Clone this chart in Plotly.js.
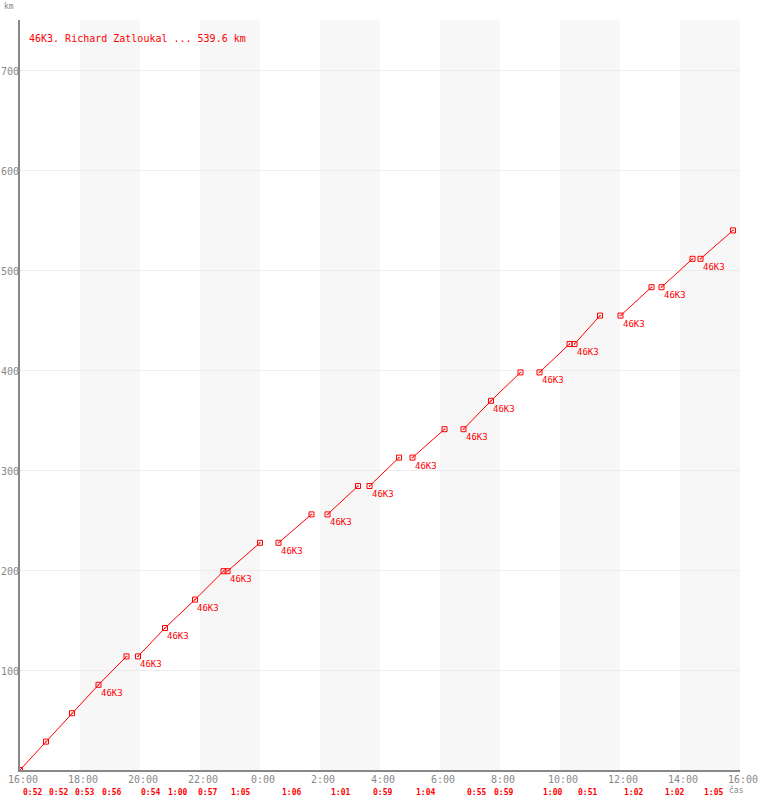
<!DOCTYPE html>
<html>
<head>
<meta charset="utf-8">
<script src="https://cdn.plot.ly/plotly-3.0.1.min.js"></script>
<style>html,body{margin:0;padding:0;background:#fff;}#chart{width:760px;height:800px;}</style>
</head>
<body>
<div id="chart"></div>
<script>
// ---- data (minutes after 16:00, null = break in the line) ----
const timeMin = [0, 52, 104, 157, 213, null,
  236, 290, 350, 407, null,
  415, 480, null,
  517, 583, null,
  615, 676, null,
  699, 758, null,
  785, 849, null,
  887, 942, 1001, null,
  1039, 1099, null,
  1109, 1160, null,
  1201, 1263, null,
  1283, 1345, null,
  1361, 1426];
const kmValues = [0, 28.4, 56.8, 85.2, 113.6, null,
  113.6, 142.0, 170.4, 198.8, null,
  198.8, 227.2, null,
  227.2, 255.6, null,
  255.6, 284.0, null,
  284.0, 312.4, null,
  312.4, 340.8, null,
  340.8, 369.2, 397.6, null,
  397.6, 426.0, null,
  426.0, 454.4, null,
  454.4, 482.8, null,
  482.8, 511.2, null,
  511.2, 539.6];
const tagged = [0, 0, 0, 1, 0, 0,
  1, 1, 1, 0, 0,
  1, 0, 0,
  1, 0, 0,
  1, 0, 0,
  1, 0, 0,
  1, 0, 0,
  1, 1, 0, 0,
  1, 0, 0,
  1, 0, 0,
  1, 0, 0,
  1, 0, 0,
  1, 0];
const tagText = "46K3";
const lapTimes = ["0:52", "0:52", "0:53", "0:56", "0:54", "1:00", "0:57", "1:05", "1:06", "1:01",
  "0:59", "1:04", "0:55", "0:59", "1:00", "0:51", "1:02", "1:02", "1:05"];
const xTickVals = [0, 120, 240, 360, 480, 600, 720, 840, 960, 1080, 1200, 1320, 1440];
const xTickText = ["16:00", "18:00", "20:00", "22:00", "0:00", "2:00", "4:00", "6:00", "8:00", "10:00", "12:00", "14:00", "16:00"];
const yTickVals = [100, 200, 300, 400, 500, 600, 700];
const bandStarts = [120, 360, 600, 840, 1080, 1320];
const bandLength = 120;
const titleText = "46K3. Richard Zatloukal ... 539.6 km";

const RED = "#ff0000";
const GRAY = "#888888";
const MONO = "'DejaVu Sans Mono', 'Liberation Mono', monospace";

const shapes = bandStarts.map(s => ({
  type: "rect", xref: "x", yref: "paper", x0: s, x1: s + bandLength, y0: 0, y1: 1,
  fillcolor: "#f7f7f7", line: {width: 0}, layer: "below"
}));

const annotations = [];
// 46K3 tags
timeMin.forEach((t, i) => {
  if (t !== null && tagged[i]) {
    annotations.push({x: t, y: kmValues[i], xref: "x", yref: "y", text: tagText, showarrow: false,
      xanchor: "left", yanchor: "top", xshift: 0, yshift: -1,
      font: {family: MONO, size: 9, color: RED}});
  }
});
// lap time labels: one per lap (consecutive points within a segment)
let lap = 0;
for (let i = 0; i + 1 < timeMin.length; i++) {
  if (timeMin[i] !== null && timeMin[i + 1] !== null) {
    annotations.push({x: timeMin[i], y: 0, xref: "x", yref: "paper", text: "<b>" + lapTimes[lap] + "</b>",
      showarrow: false, xanchor: "left", yanchor: "middle", xshift: 1, yshift: -22,
      font: {family: MONO, size: 8, color: RED}});
    lap++;
  }
}
annotations.push({x: 0, y: 1, xref: "paper", yref: "paper", text: titleText, showarrow: false,
  xanchor: "left", yanchor: "middle", xshift: 7, yshift: -18, font: {family: MONO, size: 10, color: RED}});
annotations.push({x: 0, y: 1, xref: "paper", yref: "paper", text: "km", showarrow: false,
  xanchor: "left", yanchor: "middle", xshift: -18, yshift: 14, font: {family: MONO, size: 8, color: GRAY}});
annotations.push({x: 1, y: 0, xref: "paper", yref: "paper", text: "čas", showarrow: false,
  xanchor: "right", yanchor: "middle", xshift: 6, yshift: -20, font: {family: MONO, size: 8, color: GRAY}});

// y tick labels drawn as annotations so they sit flush against the axis
yTickVals.forEach(v => {
  annotations.push({x: 0, y: v, xref: "paper", yref: "y", text: String(v), showarrow: false,
    xanchor: "right", yanchor: "middle", xshift: 0, yshift: -1,
    borderpad: 0, font: {family: MONO, size: 10, color: GRAY}});
});

const trace = {
  x: timeMin, y: kmValues, type: "scatter", mode: "lines+markers", connectgaps: false,
  line: {color: RED, width: 1},
  marker: {symbol: "square-open-dot", size: 5, color: RED, line: {color: RED, width: 1}},
  hoverinfo: "skip"
};

const layout = {
  width: 760, height: 800,
  margin: {l: 20, r: 20, t: 20, b: 30, pad: 0},
  paper_bgcolor: "#ffffff", plot_bgcolor: "#ffffff",
  showlegend: false,
  xaxis: {range: [0, 1440], tickmode: "array", tickvals: xTickVals, ticktext: xTickText,
    showgrid: false, zeroline: false, showline: true, linecolor: GRAY, linewidth: 2,
    ticks: "", ticklabelshift: 3, ticklabelstandoff: -1,
    tickfont: {family: MONO, size: 10, color: GRAY}, fixedrange: true},
  yaxis: {range: [0, 750], tickmode: "array", tickvals: yTickVals, showticklabels: false,
    showgrid: true, gridcolor: "#ececec", gridwidth: 1, zeroline: false,
    showline: true, linecolor: GRAY, linewidth: 2, ticks: "", fixedrange: true},
  shapes: shapes,
  annotations: annotations
};

Plotly.newPlot("chart", [trace], layout, {staticPlot: true, displayModeBar: false});
</script>
</body>
</html>
